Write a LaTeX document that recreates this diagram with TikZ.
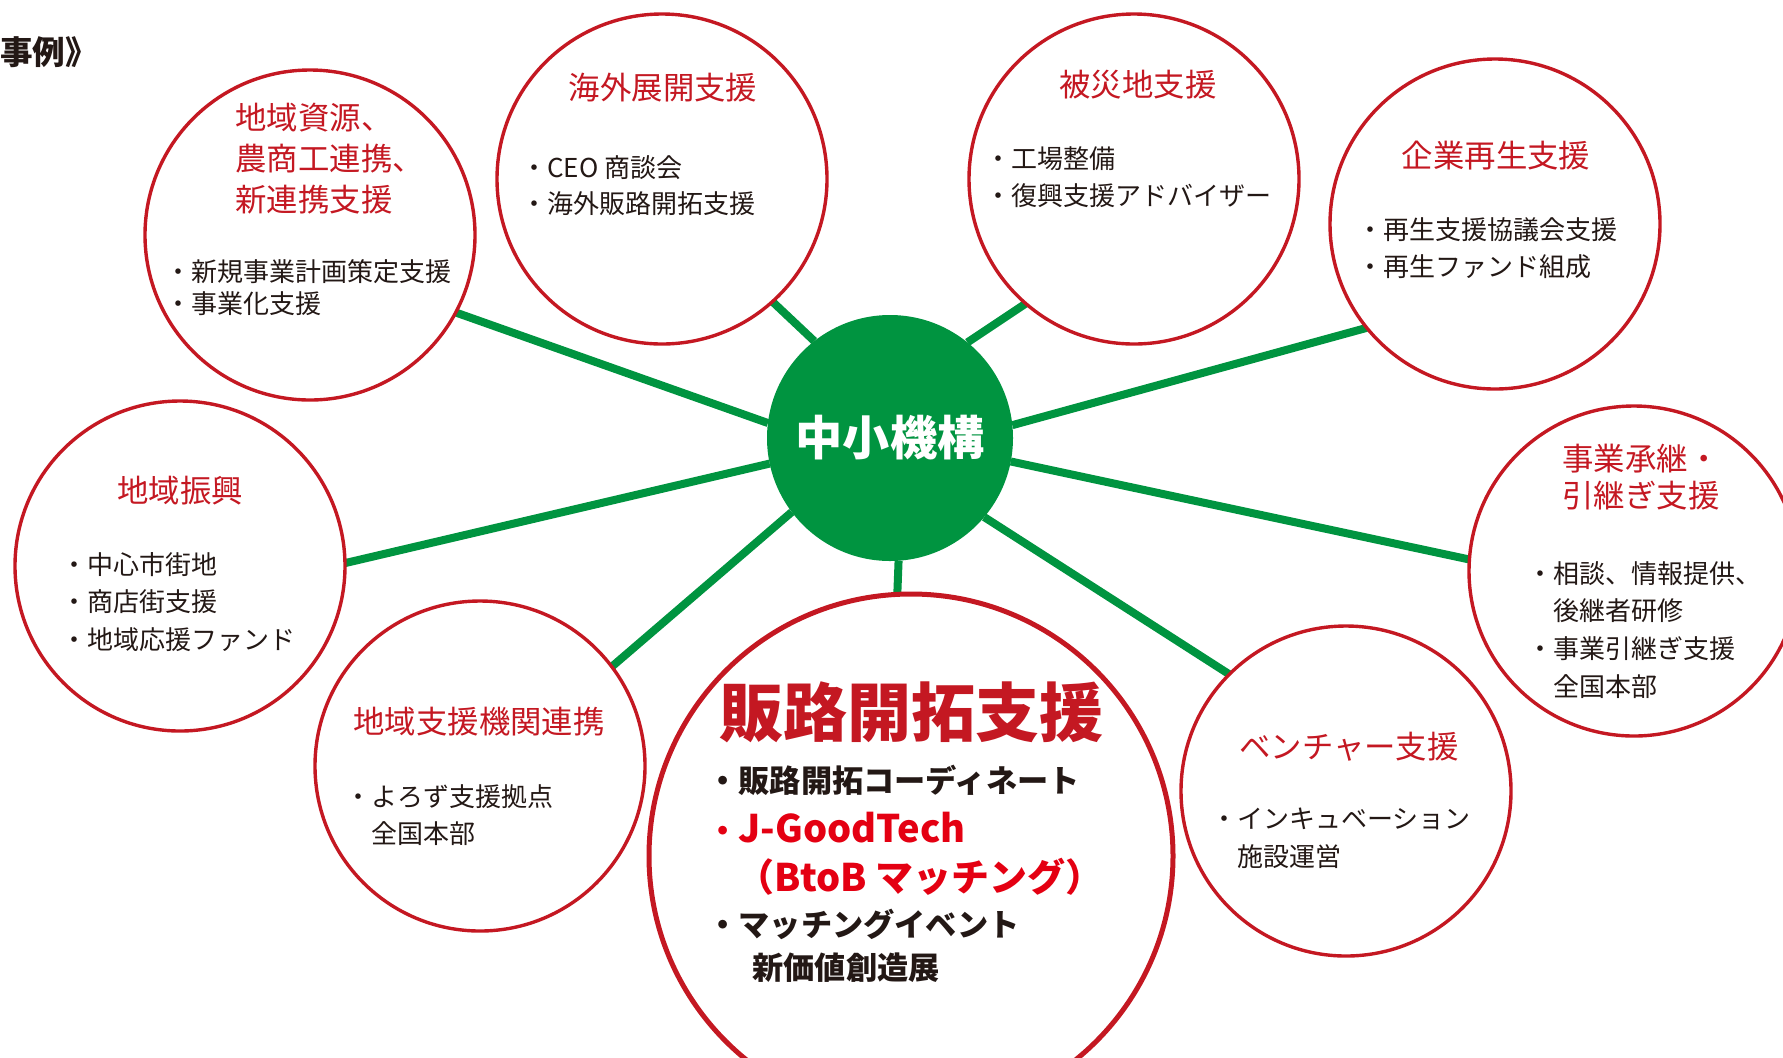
\documentclass[tikz,border=0pt]{standalone}
\usepackage{fontspec}
\setmainfont{Noto Sans CJK JP}
\usetikzlibrary{backgrounds}
\definecolor{cred}{RGB}{196,24,34}
\definecolor{bred}{RGB}{228,0,18}
\definecolor{cgreen}{RGB}{0,148,64}
\definecolor{ink}{RGB}{35,24,21}
\begin{document}
\begin{tikzpicture}[x=0.5pt,y=-0.5pt,
  bub/.style={circle,draw=cred,line width=1.7pt,inner sep=0pt,outer sep=0pt,minimum size=165pt},
  link/.style={draw=cgreen,line width=4pt},
  ttl/.style={text=cred,inner sep=0pt,align=left,font=\fontsize{15.7}{20.5}\selectfont},
  itm/.style={text=ink,inner sep=0pt,align=left,font=\fontsize{13}{18.8}\selectfont},
  hb/.style={text=ink,inner sep=0pt,anchor=west,font=\bfseries\fontsize{15.6}{18}\selectfont},
  hred/.style={hb,text=bred,font=\bfseries\fontsize{19}{20}\selectfont},
]
\useasboundingbox (0,0) rectangle (1783,1057);
\node[bub] (A) at (310,235) {};
\node[bub] (B) at (662,179) {};
\node[bub] (C) at (1134,179) {};
\node[bub] (D) at (1495,224) {};
\node[bub] (E) at (1634,571) {};
\node[bub] (F) at (180,566) {};
\node[bub] (G) at (480,766) {};
\node[bub] (I) at (1346,791) {};
\node[bub,line width=2.5pt,minimum size=262pt] (H) at (911,856) {};
\node[circle,fill=cgreen,minimum size=123pt,inner sep=0pt,outer sep=0pt,text=white,font=\bfseries\fontsize{23.6}{24}\selectfont] (K) at (890,438) {中小機構};
\begin{scope}[on background layer]
\draw[link] (K.173.4) -- (A.-28.9);
\draw[link] (K.128) -- (B.-48.6);
\draw[link] (K.51.3) -- (C.-131.4);
\draw[link] (K.6.5) -- (D.219);
\draw[link] (K.-11.6) -- (E.176.9);
\draw[link] (K.192.1) -- (F.1.7);
\draw[link] (K.217.3) -- (G.37.1);
\draw[link] (K.-86.3) -- (H.93.7);
\draw[link] (K.-40.8) -- (I.135.3);
\end{scope}
% top-left
\node[anchor=west,inner sep=0pt,text=ink,font=\bfseries\fontsize{16.3}{16}\selectfont] (ex) at (0,52) {事例》};
% A
\node[ttl,anchor=north west] (At) at (235,103) {地域資源、\\農商工連携、\\新連携支援};
\node[itm,anchor=north west,font=\fontsize{13}{16}\selectfont] (Ai) at (165,259) {・新規事業計画策定支援\\・事業化支援};
% B
\node[ttl,anchor=north] (Bt) at (663,73) {海外展開支援};
\node[itm,anchor=north west,font=\fontsize{13}{18}\selectfont] (Bi) at (521,155) {・CEO 商談会\\・海外販路開拓支援};
% C
\node[ttl,anchor=north] (Ct) at (1138,70) {被災地支援};
\node[itm,anchor=north west] (Ci) at (985,146) {・工場整備\\・復興支援アドバイザー};
% D
\node[ttl,anchor=north] (Dt) at (1496,141) {企業再生支援};
\node[itm,anchor=north west] (Di) at (1357,217) {・再生支援協議会支援\\・再生ファンド組成};
% E
\node[ttl,anchor=north west,font=\fontsize{15.7}{18.2}\selectfont] (Et) at (1562,444) {事業承継・\\引継ぎ支援};
\node[itm,anchor=north west] (Ei) at (1527,561) {・相談、情報提供、\\\hspace*{1em}後継者研修\\・事業引継ぎ支援\\\hspace*{1em}全国本部};
% F
\node[ttl,anchor=north] (Ft) at (180,476) {地域振興};
\node[itm,anchor=north west] (Fi) at (61,552) {・中心市街地\\・商店街支援\\・地域応援ファンド};
% G
\node[ttl,anchor=north] (Gt) at (479,707) {地域支援機関連携};
\node[itm,anchor=north west] (Gi) at (345,784) {・よろず支援拠点\\\hspace*{1em}全国本部};
% I
\node[ttl,anchor=north] (It) at (1349,732) {ベンチャー支援};
\node[itm,anchor=north west] (Ii) at (1211,808) {・インキュベーション\\\hspace*{1em}施設運営};
% H
\node[text=cred,inner sep=0pt,anchor=north,font=\bfseries\fontsize{32}{32}\selectfont] (Ht) at (911,681) {販路開拓支援};
\node[hb] (H1) at (707,780) {・販路開拓コーディネート};
\node[hred] (H2) at (707,828) {{\fontsize{15.6}{18}\selectfont ・}J-GoodTech};
\node[hred] (H3) at (736,877) {（BtoB マッチング）};
\node[hb] (H4) at (707,924) {・マッチングイベント};
\node[hb] (H5) at (752,968) {新価値創造展};
\end{tikzpicture}
\end{document}
